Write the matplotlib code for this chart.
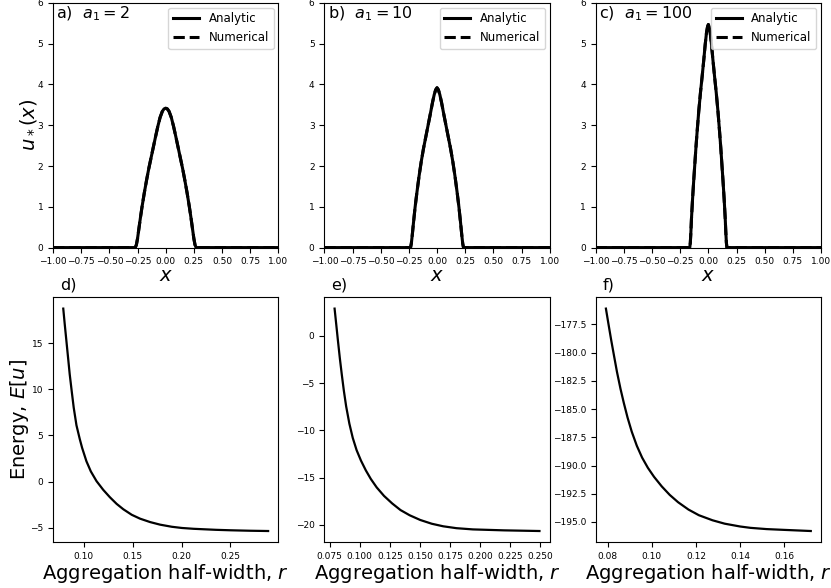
import matplotlib
matplotlib.use("Agg")
import matplotlib.pyplot as plt
import numpy as np

# top row: steady states u_*(x)
x_a = [-1.0, -0.27, -0.26, -0.25, -0.24, -0.225, -0.21, -0.19, -0.17, -0.15, -0.13, -0.11, -0.09, -0.07, -0.05, -0.03, -0.015, 0.0,
       0.015, 0.03, 0.05, 0.07, 0.09, 0.11, 0.13, 0.15, 0.17, 0.19, 0.21, 0.225, 0.24, 0.25, 0.26, 0.27, 1.0]
u_a = [0, 0, 0.07, 0.22, 0.42, 0.72, 1.00, 1.34, 1.65, 1.94, 2.20, 2.46, 2.72, 2.97, 3.19, 3.34, 3.40, 3.42,
       3.40, 3.34, 3.19, 2.97, 2.72, 2.46, 2.20, 1.94, 1.65, 1.34, 1.00, 0.72, 0.42, 0.22, 0.07, 0, 0]

x_b = [-1.0, -0.235, -0.228, -0.22, -0.21, -0.195, -0.18, -0.16, -0.14, -0.12, -0.10, -0.08, -0.06, -0.04, -0.025, -0.012, 0.0,
       0.012, 0.025, 0.04, 0.06, 0.08, 0.10, 0.12, 0.14, 0.16, 0.18, 0.195, 0.21, 0.22, 0.228, 0.235, 1.0]
u_b = [0, 0, 0.10, 0.30, 0.58, 0.98, 1.32, 1.74, 2.11, 2.43, 2.71, 2.99, 3.27, 3.56, 3.75, 3.87, 3.92,
       3.87, 3.75, 3.56, 3.27, 2.99, 2.71, 2.43, 2.11, 1.74, 1.32, 0.98, 0.58, 0.30, 0.10, 0, 0]

x_c = [-1.0, -0.165, -0.16, -0.155, -0.15, -0.14, -0.13, -0.12, -0.11, -0.10, -0.085, -0.07, -0.055, -0.04, -0.028, -0.016, -0.007, 0.0,
       0.007, 0.016, 0.028, 0.04, 0.055, 0.07, 0.085, 0.10, 0.11, 0.12, 0.13, 0.14, 0.15, 0.155, 0.16, 0.165, 1.0]
u_c = [0, 0, 0.12, 0.38, 0.70, 1.20, 1.64, 2.05, 2.46, 2.83, 3.35, 3.80, 4.20, 4.62, 4.98, 5.28, 5.42, 5.47,
       5.42, 5.28, 4.98, 4.62, 4.20, 3.80, 3.35, 2.83, 2.46, 2.05, 1.64, 1.20, 0.70, 0.38, 0.12, 0, 0]

# bottom row: energy vs aggregation half-width
r_d = [0.0790, 0.0805, 0.0822, 0.0839, 0.0856, 0.0877, 0.0897, 0.0925, 0.0959, 0.0983, 0.1027, 0.1072, 0.113,
       0.1199, 0.1267, 0.1336, 0.1404, 0.149, 0.1575, 0.1678, 0.178, 0.19, 0.2003, 0.2123, 0.2226, 0.235, 0.25, 0.27, 0.2885]
E_d = [18.75, 17.07, 15.26, 13.45, 11.63, 9.75, 8.01, 6.10, 4.60, 3.65, 2.20, 1.10, 0.05,
       -0.90, -1.70, -2.42, -3.00, -3.60, -4.02, -4.39, -4.67, -4.90, -5.03, -5.12, -5.17, -5.23, -5.28, -5.33, -5.36]

r_e = [0.0791, 0.0805, 0.0818, 0.0835, 0.0851, 0.0868, 0.0887, 0.0914, 0.0942, 0.0974, 0.101, 0.1051, 0.1092,
       0.1141, 0.1202, 0.127, 0.1339, 0.1415, 0.1503, 0.1599, 0.1694, 0.1804, 0.1941, 0.22, 0.2494]
E_e = [2.90, 1.20, -0.40, -2.40, -4.10, -5.80, -7.45, -9.30, -10.80, -12.10, -13.20, -14.25, -15.15,
       -16.05, -16.95, -17.75, -18.45, -19.00, -19.50, -19.90, -20.17, -20.37, -20.50, -20.60, -20.67]

r_f = [0.0792, 0.0803, 0.0816, 0.0828, 0.0842, 0.0858, 0.0873, 0.089, 0.0909, 0.0932, 0.0956, 0.0982, 0.101,
       0.1045, 0.1081, 0.1119, 0.1166, 0.1213, 0.1275, 0.133, 0.14, 0.1447, 0.152, 0.16, 0.172]
E_f = [-176.1, -177.4, -178.9, -180.2, -181.7, -183.2, -184.45, -185.75, -187.0, -188.25, -189.3, -190.2, -191.0,
       -191.85, -192.6, -193.25, -193.9, -194.4, -194.85, -195.15, -195.4, -195.52, -195.63, -195.7, -195.8]

tops = [(x_a, u_a, 'a)  $a_1 = 2$'), (x_b, u_b, 'b)  $a_1 = 10$'), (x_c, u_c, 'c)  $a_1 = 100$')]
bots = [(r_d, E_d, 'd)'), (r_e, E_e, 'e)'), (r_f, E_f, 'f)')]

fig, axs = plt.subplots(2, 3, figsize=(8.31, 5.88), dpi=100)
fig.subplots_adjust(left=0.0638, right=0.988, top=0.995, bottom=0.078, wspace=0.204, hspace=0.204)

for ax, (x, u, lab) in zip(axs[0], tops):
    ax.plot(x, u, color='k', lw=2.2, label='Analytic')
    ax.plot(x, u, color='k', lw=2.2, ls='--', label='Numerical')
    ax.set_xlim(-1, 1)
    ax.set_ylim(0, 6)
    ax.set_xticks(np.arange(-1, 1.01, 0.25))
    ax.tick_params(labelsize=6.5)
    ax.set_xlabel('$x$', fontsize=14, labelpad=0)
    ax.text(0.015, 0.995, lab, transform=ax.transAxes, fontsize=11.5, va='top', ha='left')
    ax.legend(loc='upper right', fontsize=8.5, handlelength=2.2, borderaxespad=0.4)
axs[0, 0].set_ylabel('$u_*(x)$', fontsize=14, labelpad=-1)

for ax, (r, E, lab) in zip(axs[1], bots):
    ax.plot(r, E, color='k', lw=1.6)
    ax.tick_params(labelsize=6.5)
    ax.set_xlabel('Aggregation half-width, $r$', fontsize=14, labelpad=0.5)
    ax.text(0.03, 1.02, lab, transform=ax.transAxes, fontsize=11.5, va='bottom', ha='left')
axs[1, 0].set_ylabel('Energy, $E[u]$', fontsize=14, labelpad=-0.5)

plt.savefig('out.png', dpi=100)
